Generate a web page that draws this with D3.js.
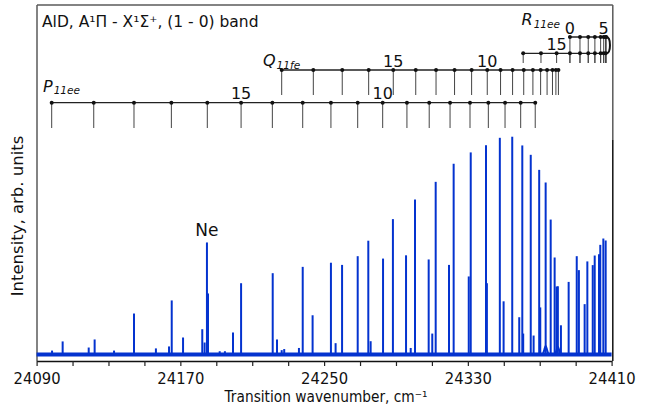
<!DOCTYPE html>
<html><head><meta charset="utf-8">
<script src="https://cdn.jsdelivr.net/npm/d3@7"></script>
<style>body{margin:0;background:#fff} svg{display:block;font-family:"DejaVu Sans",sans-serif}</style>
</head><body><svg id="c" width="651" height="406"></svg>
<script>
// ---- data ----
const peakWn = [24098.6, 24104.5, 24119.0, 24122.3, 24133.1, 24144.2, 24156.4, 24163.7, 24165.2, 24171.5,
  24182.2, 24183.5, 24184.8, 24185.4, 24191.9, 24194.8, 24199.3, 24203.8, 24221.4, 24223.8,
  24226.4, 24227.8, 24236.0, 24238.1, 24243.6, 24253.8, 24256.4, 24260.0, 24268.7, 24274.6,
  24275.9, 24282.8, 24288.3, 24295.6, 24298.2, 24300.6, 24308.2, 24310.2, 24312.1, 24319.5,
  24322.1, 24330.5, 24331.6, 24340.1, 24340.6, 24347.8, 24349.9, 24354.7, 24358.6, 24360.3,
  24360.8, 24365.0, 24366.6, 24369.7, 24370.3, 24373.3, 24376.1, 24378.3, 24379.4, 24380.1,
  24381.8, 24386.1, 24390.6, 24391.8, 24395.0, 24396.5, 24399.5, 24400.6, 24403.0, 24403.7,
  24405.4, 24406.7];
const peakInt = [1.8, 6.0, 3.2, 6.9, 1.8, 18.8, 2.8, 3.7, 24.8, 7.8,
  11.6, 5.5, 51.4, 28, 1.5, 1.5, 10.1, 32.7, 37.3, 6.9,
  2, 2.5, 3, 40.2, 18, 42.1, 5.2, 41.1, 45.1, 52.2,
  6.1, 44, 62.1, 45.5, 3, 71.1, 43.6, 9.6, 79.2, 41.1,
  87.5, 35.8, 92.7, 96, 32.7, 99.4, 24.4, 99.9, 17.1, 95.9,
  9.6, 91.6, 8.7, 84.7, 21.6, 78.9, 61.9, 44.5, 31.2, 31.3,
  13.4, 33.3, 45.1, 38.7, 23.1, 42.7, 41, 45.4, 46, 50.3,
  53.2, 52.3];
const humpWn = [24373.3, 24380.1];
const humpInt = [5.0, 4.5];

const pJ  = [20, 19, 18, 17, 16, 15, 14, 13, 12, 11, 10, 9, 8, 7, 6, 5, 4, 3, 2];
const pWn = [24098.4, 24121.8, 24144.2, 24165.0, 24185.0, 24203.8, 24221.2, 24238.1, 24253.8, 24268.7,
  24282.6, 24296.1, 24308.5, 24320.1, 24331.2, 24341.4, 24350.7, 24359.4, 24367.5];
const qJ  = [19, 18, 17, 16, 15, 14, 13, 12, 11, 10, 9, 8, 7, 6, 5, 4, 3, 2, 1];
const qWn = [24226.4, 24244.0, 24260.1, 24274.8, 24288.5, 24301.0, 24312.3, 24322.6, 24332.1, 24340.8,
  24348.2, 24354.9, 24361.1, 24366.2, 24370.5, 24374.1, 24377.1, 24379.0, 24380.4];
const rUpJ  = [0, 1, 2, 3, 4, 5, 6, 7];
const rUpWn = [24386.8, 24392.4, 24397.0, 24400.7, 24403.9, 24405.6, 24406.6, 24407.0];
const rLoJ  = [8, 9, 10, 11, 12, 13, 14, 15, 16, 17];
const rLoWn = [24406.7, 24405.6, 24403.9, 24400.7, 24397.0, 24392.4, 24386.8, 24379.4, 24370.7, 24360.8];

const pLabels = [15, 10], qLabels = [15, 10], rUpLabels = [0, 5], rLoLabels = [15];
const tickVals = [24090, 24110, 24130, 24150, 24170, 24190, 24210, 24230, 24250, 24270, 24290,
  24310, 24330, 24350, 24370, 24390, 24410];
const tickLabelVals = [24090, 24170, 24250, 24330, 24410];

// ---- drawing ----
const svg = d3.select("#c");
const x = d3.scaleLinear().domain([24090, 24410]).range([36.6, 611.6]);
const y = d3.scaleLinear().domain([0, 100]).range([354.5, 136.5]);
const blue = "#0433cf";

// frame
const frameCol = "#5a5a5a";
svg.append("line").attr("x1", 37).attr("x2", 37).attr("y1", 5).attr("y2", 361).attr("stroke", frameCol).attr("stroke-width", 1.5);
svg.append("line").attr("x1", 37).attr("x2", 612.8).attr("y1", 5).attr("y2", 5).attr("stroke", frameCol).attr("stroke-width", 1.5);
svg.append("line").attr("x1", 612.8).attr("x2", 612.8).attr("y1", 5).attr("y2", 140).attr("stroke", frameCol).attr("stroke-width", 1.5);
svg.append("line").attr("x1", 612.8).attr("x2", 612.8).attr("y1", 140).attr("y2", 361).attr("stroke", "#111").attr("stroke-width", 1.5);

// spectrum baseline
svg.append("line").attr("x1", x(24090)).attr("x2", x(24410)).attr("y1", y(0)).attr("y2", y(0))
  .attr("stroke", blue).attr("stroke-width", 4);
// humps
const hl = d3.line().x(d => x(d[0])).y(d => y(d[1])).curve(d3.curveBasis);
humpWn.forEach((w, i) => {
  const h = humpInt[i];
  svg.append("path").attr("d", hl([[w - 1.6, 0], [w - 0.7, h * 0.4], [w, h], [w + 0.7, h * 0.4], [w + 1.6, 0]]))
    .attr("fill", "none").attr("stroke", blue).attr("stroke-width", 2);
});
// peaks
svg.append("g").selectAll("line").data(peakWn).join("line")
  .attr("x1", d => x(d)).attr("x2", d => x(d))
  .attr("y1", y(0)).attr("y2", (d, i) => y(peakInt[i]))
  .attr("stroke", blue).attr("stroke-width", 2);

// Ne label
svg.append("text").attr("x", x(24184.8)).attr("y", 236).attr("text-anchor", "middle")
  .attr("font-size", 17).attr("fill", "#111").text("Ne");

// x axis
const ax = svg.append("g").attr("transform", "translate(0,361)")
  .call(d3.axisBottom(x).tickValues(tickVals).tickSize(5).tickSizeOuter(0)
    .tickFormat(d => tickLabelVals.includes(d) ? String(d) : ""));
ax.select(".domain").attr("stroke", "#111").attr("stroke-width", 1.6);
ax.selectAll(".tick line").attr("stroke", "#222").attr("stroke-width", 1.2);
ax.selectAll(".tick text").attr("y", 12).attr("font-size", 16).attr("fill", "#111")
  .attr("font-family", "DejaVu Sans")
  .each(function () { if (this.textContent) d3.select(this).attr("textLength", 47).attr("lengthAdjust", "spacingAndGlyphs"); });

svg.append("text").attr("x", 326).attr("y", 401.5).attr("text-anchor", "middle").attr("font-size", 15)
  .attr("fill", "#111").attr("textLength", 203).attr("lengthAdjust", "spacingAndGlyphs")
  .text("Transition wavenumber, cm\u207B\u00B9");
svg.append("text").attr("transform", "translate(23,216) rotate(-90)").attr("text-anchor", "middle")
  .attr("font-size", 16.5).attr("fill", "#111").text("Intensity, arb. units");

// title
svg.append("text").attr("x", 42).attr("y", 27).attr("font-size", 15.5).attr("fill", "#111")
  .text("AlD, A\u00B9\u03A0 - X\u00B9\u03A3\u207A, (1 - 0) band");

// combs
function comb(wns, js, rowY, tickBottom, labels) {
  const g = svg.append("g");
  g.append("line").attr("x1", x(d3.min(wns))).attr("x2", x(d3.max(wns)))
    .attr("y1", rowY).attr("y2", rowY).attr("stroke", "#222").attr("stroke-width", 1.3);
  g.selectAll(".tk").data(wns).join("line").attr("class", "tk")
    .attr("x1", d => x(d)).attr("x2", d => x(d)).attr("y1", rowY).attr("y2", tickBottom)
    .attr("stroke", "#444").attr("stroke-width", 1);
  g.selectAll("circle").data(wns).join("circle")
    .attr("cx", d => x(d)).attr("cy", rowY).attr("r", 2).attr("fill", "#111");
  labels.forEach(L => {
    const i = js.indexOf(L);
    g.append("text").attr("x", x(wns[i])).attr("y", rowY - 3.5).attr("text-anchor", "middle")
      .attr("font-size", 16).attr("fill", "#111").text(L);
  });
}
comb(pWn, pJ, 102.7, 128, pLabels);
comb(qWn, qJ, 70, 95, qLabels);
comb(rUpWn, rUpJ, 37, 63, rUpLabels);
comb(rLoWn, rLoJ, 53.3, 63, rLoLabels);
// band-head turn of R branch
const hx = x(d3.max(rUpWn));
svg.append("path").attr("d", `M${hx},37 C${hx + 5},37 ${hx + 5},53.3 ${hx},53.3`)
  .attr("fill", "none").attr("stroke", "#111").attr("stroke-width", 2);

// branch names
function branchName(xp, yb, main, sub) {
  const t = svg.append("text").attr("x", xp).attr("y", yb).attr("fill", "#111").attr("font-style", "italic");
  t.append("tspan").attr("font-size", 16).text(main);
  t.append("tspan").attr("font-size", 10.5).attr("dx", 1).attr("dy", 2.5).text(sub);
}
branchName(43, 91.7, "P", "11ee");
branchName(263, 66, "Q", "11fe");
branchName(521.5, 25, "R", "11ee");
</script></body></html>
